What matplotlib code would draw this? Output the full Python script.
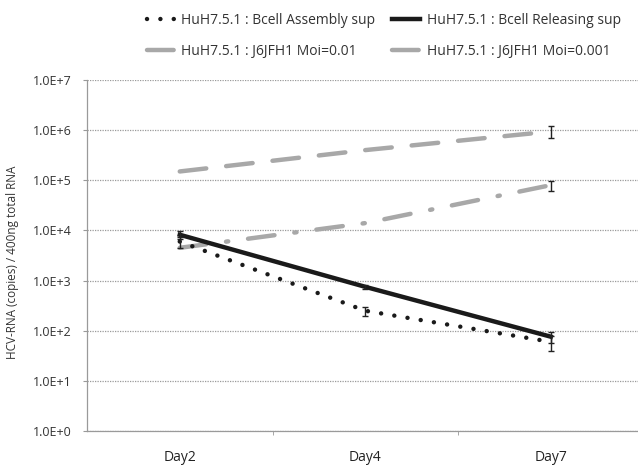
import matplotlib
matplotlib.use("Agg")
import matplotlib.pyplot as plt
import numpy as np

days = ["Day2", "Day4", "Day7"]
assembly = [6.0e3, 2.5e2, 6.0e1]
assembly_err = [1.5e3, 5.0e1, 2.0e1]
releasing = [8.2e3, 7.5e2, 7.6e1]
releasing_err = [1.5e3, 6.0e1, 2.0e1]
moi001 = [1.5e5, 4.0e5, 9.4e5]
moi001_err = [1.0e4, 2.0e4, 2.5e5]
moi0001 = [4.5e3, 1.4e4, 8.0e4]
moi0001_err = [5.0e2, 1.0e3, 1.8e4]
names = ["HuH7.5.1 : Bcell Assembly sup", "HuH7.5.1 : Bcell Releasing sup",
         "HuH7.5.1 : J6JFH1 Moi=0.01", "HuH7.5.1 : J6JFH1 Moi=0.001"]
yticks = [1e0, 1e1, 1e2, 1e3, 1e4, 1e5, 1e6, 1e7]
ytick_labels = ["1.0E+0", "1.0E+1", "1.0E+2", "1.0E+3", "1.0E+4", "1.0E+5", "1.0E+6", "1.0E+7"]

plt.rcParams['font.family'] = ['Open Sans', 'DejaVu Sans']

fig = plt.figure(figsize=(6.38, 4.66), dpi=100)
ax = fig.add_axes([87/638, 1 - 431/466, 1 - 87/638, (431 - 80)/466])

x = np.arange(len(days))
grey = "#a8a8a8"

l3, = ax.plot(x, moi001, color=grey, lw=3.2, dashes=(6, 4.5), dash_capstyle='round')
ax.errorbar(x[-1:], moi001[-1:], yerr=moi001_err[-1:], fmt='none', ecolor='#222222', elinewidth=1, capsize=2.5)
l4, = ax.plot(x, moi0001, color=grey, lw=3.2, dashes=(6, 4.5, 0.5, 4.5), dash_capstyle='round')
ax.errorbar(x[-1:], moi0001[-1:], yerr=moi0001_err[-1:], fmt='none', ecolor='#222222', elinewidth=1, capsize=2.5)
l2, = ax.plot(x, releasing, color='#1a1a1a', lw=3.2)
ax.errorbar(x, releasing, yerr=releasing_err, fmt='none', ecolor='#222222', elinewidth=1, capsize=2.5)
l1, = ax.plot(x, assembly, color='#1a1a1a', lw=3.2, dashes=(0.01, 3.0), dash_capstyle='round')
ax.errorbar(x, assembly, yerr=assembly_err, fmt='none', ecolor='#222222', elinewidth=1, capsize=2.5)

ax.set_yscale('log')
ax.set_ylim(1e0, 1e7)
ax.set_xlim(-0.5, 2.47)
ax.set_yticks(yticks)
ax.set_yticklabels(ytick_labels)
ax.minorticks_off()
ax.set_xticks(x)
ax.set_xticklabels(days)
ax.set_xticks([0.5, 1.5], minor=True)
ax.tick_params(axis='x', which='major', length=0, pad=14, labelsize=10, colors='#222222')
ax.tick_params(axis='x', which='minor', length=3, color='#999999')
ax.tick_params(axis='y', length=3, color='#999999', labelsize=9, labelcolor='#333333', pad=8)
ax.grid(True, axis='y', which='major', color='#9a9a9a', lw=0.9, ls=(0, (1, 1)))
for s in ['top', 'right']:
    ax.spines[s].set_visible(False)
for s in ['left', 'bottom']:
    ax.spines[s].set_color('#9a9a9a')
    ax.spines[s].set_linestyle((0, (1, 1)))
    ax.spines[s].set_linewidth(0.9)

fig.text(13/638, 1 - 262/466, "HCV-RNA (copies) / 400ng total RNA", rotation=90,
         ha='center', va='center', fontsize=8.5, color='#333333')

fig.legend([l1, l3, l2, l4], [names[0], names[2], names[1], names[3]], ncol=2,
           loc='upper left', bbox_to_anchor=(134/638, 1.0),
           frameon=False, fontsize=10, handlelength=2.0, handletextpad=0.5,
           columnspacing=1.2, labelspacing=1.2, labelcolor='#333333')

fig.savefig("out.png", dpi=100)
